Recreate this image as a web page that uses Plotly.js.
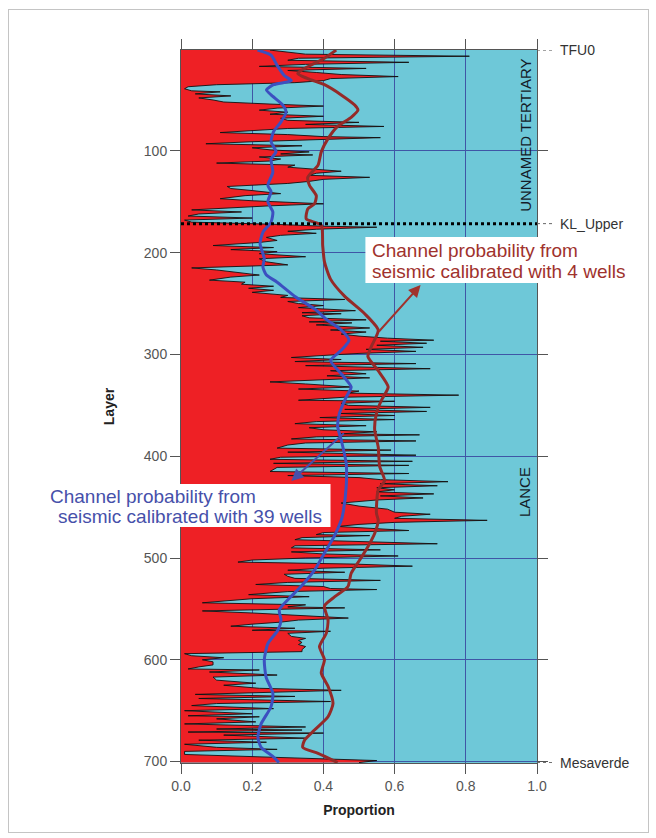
<!DOCTYPE html>
<html>
<head>
<meta charset="utf-8">
<script src="https://cdn.plot.ly/plotly-3.0.1.min.js"></script>
<style>
  html, body { margin: 0; padding: 0; background: #ffffff; }
  #wrap { position: relative; width: 656px; height: 838px; }
  #chart { width: 656px; height: 838px; }
  #frame { position: absolute; left: 8px; top: 9px; width: 639px; height: 822px;
           border: 1px solid #c4c4c4; pointer-events: none; }
</style>
</head>
<body>
<div id="wrap"><div id="chart"></div><div id="frame"></div></div>
<script>
// ---- Sand (channel) proportion from wells, per layer ----
const wellLayers = [
  1,3,5,7,9,11,13,15,17,19,
  21,23,25,27,29,31,33,35,37,39,
  41,42,44,46,48,50,52,54,56,58,
  60,62,64,66,68,70,72,74,76,78,
  80,82,84,86,87,89,91,93,95,97,
  99,101,103,104,106,108,110,112,114,116,
  118,120,122,124,126,128,130,132,135,137,
  139,142,144,147,149,152,154,156,158,160,
  162,164,166,168,170,172,174,175,177,179,
  181,183,185,188,190,193,195,197,199,201,
  204,206,209,212,214,215,217,219,222,224,
  227,229,231,233,235,237,239,242,244,246,
  248,250,252,254,257,259,260,262,264,266,
  268,269,271,274,276,278,280,282,284,286,
  287,289,291,293,295,297,299,301,303,305,
  307,309,311,314,316,319,321,323,325,327,
  329,332,334,336,338,340,342,345,346,348,
  350,352,354,356,358,360,362,364,366,368,
  370,372,374,376,378,379,381,383,385,387,
  389,392,394,396,399,401,403,405,407,409,
  411,413,415,417,419,421,423,425,427,429,
  431,433,435,437,439,441,443,446,449,452,
  455,457,459,461,463,465,467,469,471,473,
  475,477,478,480,482,484,486,488,490,492,
  494,496,498,500,502,504,506,508,510,512,
  514,516,518,520,522,524,526,528,530,531,
  533,536,538,540,542,544,546,548,549,551,
  552,554,556,559,561,563,565,567,569,571,
  572,574,577,579,581,583,585,587,590,592,
  594,596,598,600,602,605,607,609,610,612,
  615,617,620,623,625,628,630,632,634,636,
  638,641,643,645,648,650,653,655,656,658,
  661,663,666,668,669,671,672,674,677,679,
  681,683,686,688,690,693,695,697,699,701
];
const wellProp = [
  0.25,0.30,0.35,0.81,0.33,0.30,0.64,0.35,0.22,0.52,
  0.30,0.38,0.45,0.61,0.42,0.40,0.32,0.10,0.02,0.01,
  0.03,0.11,0.04,0.14,0.05,0.09,0.12,0.25,0.40,0.27,
  0.22,0.30,0.25,0.40,0.28,0.30,0.50,0.35,0.57,0.30,
  0.20,0.11,0.30,0.40,0.56,0.35,0.20,0.07,0.34,0.20,
  0.25,0.36,0.28,0.37,0.22,0.28,0.25,0.10,0.32,0.30,
  0.38,0.45,0.38,0.36,0.53,0.40,0.36,0.30,0.13,0.14,
  0.20,0.28,0.18,0.11,0.20,0.40,0.25,0.12,0.03,0.17,
  0.05,0.02,0.20,0.01,0.03,0.25,0.40,0.55,0.38,0.30,
  0.38,0.28,0.24,0.27,0.22,0.09,0.26,0.14,0.27,0.22,
  0.35,0.22,0.24,0.30,0.10,0.03,0.10,0.15,0.22,0.14,
  0.08,0.18,0.17,0.26,0.19,0.26,0.20,0.30,0.28,0.46,
  0.30,0.33,0.40,0.33,0.49,0.34,0.45,0.34,0.36,0.52,
  0.36,0.48,0.38,0.53,0.42,0.52,0.45,0.50,0.58,0.71,
  0.56,0.69,0.55,0.68,0.52,0.66,0.50,0.40,0.31,0.45,
  0.32,0.66,0.35,0.70,0.42,0.52,0.41,0.53,0.40,0.25,
  0.35,0.48,0.33,0.50,0.47,0.78,0.46,0.33,0.60,0.45,
  0.47,0.70,0.46,0.69,0.45,0.60,0.39,0.60,0.38,0.32,
  0.52,0.36,0.40,0.55,0.45,0.67,0.38,0.31,0.66,0.35,
  0.30,0.27,0.59,0.30,0.66,0.28,0.25,0.65,0.26,0.64,
  0.27,0.26,0.25,0.64,0.30,0.50,0.56,0.75,0.56,0.72,
  0.55,0.60,0.55,0.71,0.56,0.68,0.55,0.45,0.50,0.58,
  0.60,0.70,0.62,0.60,0.86,0.60,0.50,0.44,0.55,0.64,
  0.40,0.38,0.53,0.34,0.32,0.55,0.72,0.32,0.31,0.56,
  0.31,0.40,0.61,0.35,0.20,0.16,0.49,0.65,0.40,0.30,
  0.46,0.29,0.30,0.32,0.56,0.30,0.21,0.40,0.42,0.55,
  0.30,0.19,0.36,0.20,0.12,0.06,0.35,0.30,0.46,0.23,
  0.06,0.20,0.30,0.47,0.33,0.28,0.20,0.14,0.32,0.20,
  0.42,0.30,0.31,0.35,0.33,0.34,0.33,0.35,0.34,0.34,
  0.01,0.03,0.12,0.06,0.09,0.09,0.05,0.02,0.22,0.08,
  0.27,0.09,0.10,0.21,0.12,0.22,0.45,0.20,0.04,0.32,
  0.05,0.42,0.10,0.03,0.26,0.01,0.20,0.02,0.22,0.10,
  0.21,0.01,0.35,0.10,0.34,0.02,0.40,0.12,0.35,0.05,
  0.24,0.01,0.10,0.27,0.01,0.01,0.20,0.40,0.55,0.50
];

// ---- Channel probability from seismic calibrated with 39 wells ----
const cal39Layers = [1,6,16,26,31,35,40,45,55,62,72,81,91,101,108,121,134,140,150,160,
  170,180,191,206,214,222,229,243,256,266,276,286,296,306,319,332,342,358,371,384,
  407,430,456,463,479,495,512,528,541,551,561,571,584,600,617,633,646,663,676,686,695,701];
const cal39Prop = [0.215,0.253,0.27,0.29,0.31,0.26,0.24,0.253,0.286,0.295,0.28,0.26,0.253,0.267,0.253,0.258,0.244,0.253,0.244,0.258,
  0.253,0.23,0.222,0.234,0.23,0.24,0.27,0.32,0.378,0.41,0.45,0.472,0.45,0.42,0.45,0.478,0.464,0.445,0.44,0.45,
  0.464,0.464,0.455,0.45,0.43,0.403,0.375,0.337,0.30,0.276,0.281,0.272,0.244,0.234,0.239,0.258,0.253,0.225,0.216,0.225,0.258,0.275];

// ---- Channel probability from seismic calibrated with 4 wells ----
const cal4Layers = [1,9,19,24,29,35,45,55,60,67,76,88,101,114,126,134,144,152,157,167,
  173,193,209,226,243,260,276,292,302,316,332,345,358,374,391,410,424,433,456,463,
  476,489,502,515,528,538,547,561,574,587,600,613,626,643,656,669,679,686,692,701];
const cal4Prop = [0.436,0.403,0.347,0.328,0.356,0.403,0.45,0.488,0.497,0.478,0.44,0.413,0.394,0.385,0.356,0.361,0.38,0.375,0.356,0.352,
  0.394,0.398,0.403,0.42,0.46,0.516,0.554,0.535,0.525,0.554,0.582,0.563,0.549,0.544,0.554,0.558,0.572,0.554,0.549,0.554,
  0.544,0.525,0.502,0.478,0.469,0.432,0.403,0.413,0.408,0.389,0.403,0.394,0.413,0.427,0.413,0.375,0.347,0.342,0.385,0.44];

// ---- Horizons and zone names ----
const horizonNames = ['TFU0', 'KL_Upper', 'Mesaverde'];
const horizonLayers = [1, 171.5, 701];
const zoneNames = ['UNNAMED TERTIARY', 'LANCE'];
const zoneLayers = [85, 435];
const xTicks = [0, 0.2, 0.4, 0.6, 0.8, 1.0];
const yTicks = [100, 200, 300, 400, 500, 600, 700];

const FONT = 'Arial, "Liberation Sans", sans-serif';
const RED4 = '#a0322d';
const BLUE39 = '#4650aa';

const traces = [
  { x: wellProp, y: wellLayers, type: 'scatter', mode: 'lines', fill: 'tozerox',
    fillcolor: '#ee2025', line: { color: '#111111', width: 0.9 }, hoverinfo: 'skip', showlegend: false },
  { x: cal39Prop, y: cal39Layers, type: 'scatter', mode: 'lines',
    line: { color: '#3c50c0', width: 3, shape: 'spline', smoothing: 0.6 }, showlegend: false },
  { x: cal4Prop, y: cal4Layers, type: 'scatter', mode: 'lines',
    line: { color: '#952a28', width: 3, shape: 'spline', smoothing: 0.6 }, showlegend: false }
];

const shapes = [
  // KL_Upper dotted marker across the plot
  { type: 'line', xref: 'x', yref: 'y', x0: 0, x1: 1, y0: horizonLayers[1], y1: horizonLayers[1],
    line: { color: '#000000', width: 3, dash: 'dot' }, layer: 'above' }
];
horizonLayers.forEach(function (l) {
  shapes.push({ type: 'line', xref: 'paper', yref: 'y', x0: 1, x1: 1.045, y0: l, y1: l,
    line: { color: '#666666', width: 1, dash: 'dot' }, layer: 'above' });
});
// white label boxes
shapes.push({ type: 'rect', xref: 'paper', yref: 'y', x0: 0.518, x1: 1.27, y0: 184.6, y1: 229.8,
  fillcolor: '#ffffff', line: { width: 0 }, layer: 'above' });
shapes.push({ type: 'rect', xref: 'paper', yref: 'y', x0: -0.397, x1: 0.42, y0: 427.3, y1: 469.5,
  fillcolor: '#ffffff', line: { width: 0 }, layer: 'above' });

const annotations = [];
horizonNames.forEach(function (n, i) {
  annotations.push({ text: n, xref: 'paper', yref: 'y', x: 1.059, y: horizonLayers[i],
    xanchor: 'left', yanchor: 'middle', showarrow: false, font: { family: FONT, size: 14, color: '#333333' } });
});
zoneNames.forEach(function (n, i) {
  annotations.push({ text: n, xref: 'paper', yref: 'y', x: 0.967, y: zoneLayers[i],
    xanchor: 'center', yanchor: 'middle', textangle: -90, showarrow: false,
    font: { family: FONT, size: 15, color: '#141c28' } });
});
// 4-well label
annotations.push({ text: 'Channel probability from', xref: 'paper', yref: 'y', x: 0.532, y: 197.4,
  xanchor: 'left', yanchor: 'middle', showarrow: false, font: { family: FONT, size: 19, color: RED4 } });
annotations.push({ text: 'seismic calibrated with 4 wells', xref: 'paper', yref: 'y', x: 0.532, y: 219.0,
  xanchor: 'left', yanchor: 'middle', showarrow: false, font: { family: FONT, size: 19, color: RED4 } });
annotations.push({ text: '', xref: 'x', yref: 'y', x: 0.673, y: 231.8, ax: -43, ay: 48,
  showarrow: true, arrowcolor: RED4, arrowwidth: 2, arrowhead: 2, arrowsize: 1.2, standoff: 0, startstandoff: 0 });
// 39-well label
annotations.push({ text: 'Channel probability from', xref: 'paper', yref: 'y', x: -0.375, y: 439.1,
  xanchor: 'left', yanchor: 'middle', showarrow: false, font: { family: FONT, size: 19, color: BLUE39 } });
annotations.push({ text: 'seismic calibrated with 39 wells', xref: 'paper', yref: 'y', x: -0.352, y: 459.7,
  xanchor: 'left', yanchor: 'middle', showarrow: false, font: { family: FONT, size: 19, color: BLUE39 } });
annotations.push({ text: '', xref: 'x', yref: 'y', x: 0.31, y: 424.3, ax: 54, ay: -49,
  showarrow: true, arrowcolor: BLUE39, arrowwidth: 2, arrowhead: 2, arrowsize: 1.2, standoff: 0, startstandoff: 0 });

const layout = {
  width: 656, height: 838,
  margin: { l: 181, r: 119, t: 50, b: 75 },
  paper_bgcolor: '#ffffff', plot_bgcolor: '#6ec8d8',
  font: { family: FONT, size: 14, color: '#444444' },
  showlegend: false,
  xaxis: {
    range: [0, 1], tickvals: xTicks, tickformat: '.1f', ticks: 'outside', ticklen: 10,
    tickcolor: '#555555', showline: true, linecolor: '#555555', linewidth: 1, mirror: 'allticks',
    showgrid: true, gridcolor: '#3f56a6', gridwidth: 1, zeroline: false,
    tickfont: { family: FONT, size: 14, color: '#555555' },
    title: { text: '<b>Proportion</b>', font: { family: FONT, size: 14, color: '#222222' }, standoff: 12 }
  },
  yaxis: {
    range: [701.4, 0.9], tickvals: yTicks, ticks: 'outside', ticklen: 10,
    tickcolor: '#555555', showline: true, linecolor: '#555555', linewidth: 1, mirror: 'allticks',
    showgrid: true, gridcolor: '#3f56a6', gridwidth: 1, zeroline: false,
    tickfont: { family: FONT, size: 14, color: '#555555' },
    title: { text: '<b>Layer</b>', font: { family: FONT, size: 14, color: '#222222' }, standoff: 25 }
  },
  shapes: shapes,
  annotations: annotations
};

Plotly.newPlot('chart', traces, layout, { staticPlot: true, displayModeBar: false });
</script>
</body>
</html>
